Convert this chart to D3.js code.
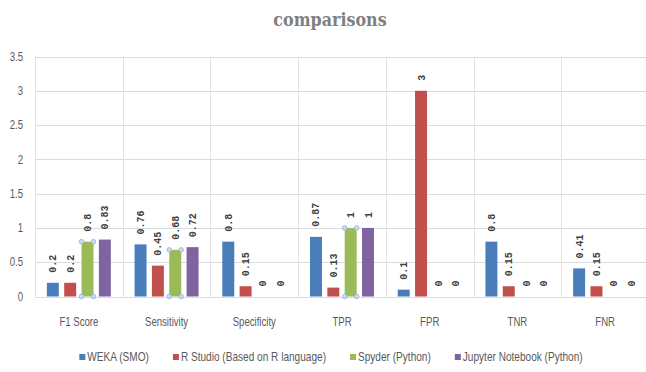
<!DOCTYPE html>
<html lang="en">
	<head>
		<meta charset="utf-8">
		<title>D3: comparisons</title>
		<script type="text/javascript" src="https://cdn.jsdelivr.net/npm/d3@7"></script>
		<style type="text/css">
			body { margin: 0; background: #fff; }
			svg { display: block; }
		</style>
	</head>
	<body>
		<script type="text/javascript">

			//Chart data
			var categories = ["F1 Score", "Sensitivity", "Specificity", "TPR", "FPR", "TNR", "FNR"];
			var seriesNames = ["WEKA (SMO)", "R Studio (Based on R language)", "Spyder (Python)", "Jupyter Notebook (Python)"];
			var weka = [0.2, 0.76, 0.8, 0.87, 0.1, 0.8, 0.41];
			var rstudio = [0.2, 0.45, 0.15, 0.13, 3, 0.15, 0.15];
			var spyder = [0.8, 0.68, 0, 1, 0, 0, 0];
			var jupyter = [0.83, 0.72, 0, 1, 0, 0, 0];
			var yTicks = [0, 0.5, 1, 1.5, 2, 2.5, 3, 3.5];
			var colors = ["#4a7ebb", "#c0504d", "#9bbb59", "#8064a2"];

			var series = [weka, rstudio, spyder, jupyter];

			//Width and height
			var w = 646;
			var h = 372;
			var plotLeft = 35, plotRight = 649, plotTop = 56.5, plotBottom = 296.5;
			var labelFont = "'Liberation Sans', Arial, sans-serif";
			var squeeze = 0.8; //narrow the sans labels a bit, the original font is condensed

			var svg = d3.select("body")
						.append("svg")
						.attr("width", w)
						.attr("height", h);

			var x0 = d3.scaleBand()
					   .domain(categories)
					   .range([plotLeft, plotRight]);

			var x1 = d3.scaleBand()
					   .domain(d3.range(series.length))
					   .range([0, 64])
					   .paddingInner(0.31);

			var y = d3.scaleLinear()
					  .domain([0, 3.5])
					  .range([plotBottom, plotTop]);

			//place a condensed text at (px, py)
			function narrowText(sel, px, py, sx) {
				return sel.attr("transform", "translate(" + px + "," + py + ") scale(" + (sx || squeeze) + ",1)");
			}

			//Title
			svg.append("text")
			   .attr("text-anchor", "middle")
			   .attr("font-family", "'DejaVu Serif', 'Liberation Serif', serif")
			   .attr("font-weight", "bold")
			   .attr("font-size", "19px")
			   .attr("fill", "#808080")
			   .attr("transform", "translate(330,26) scale(0.84,1)")
			   .text("comparisons");

			//Horizontal grid
			svg.append("g")
			   .selectAll("line")
			   .data(yTicks)
			   .enter()
			   .append("line")
			   .attr("x1", plotLeft)
			   .attr("x2", plotRight)
			   .attr("y1", function(d) { return Math.round(y(d)) + 0.5; })
			   .attr("y2", function(d) { return Math.round(y(d)) + 0.5; })
			   .attr("stroke", "#dcdcdc")
			   .attr("stroke-width", 1);

			//Vertical category separators
			svg.append("g")
			   .selectAll("line")
			   .data(categories)
			   .enter()
			   .append("line")
			   .attr("x1", function(d) { return Math.round(x0(d)) + 0.5; })
			   .attr("x2", function(d) { return Math.round(x0(d)) + 0.5; })
			   .attr("y1", y(3.5))
			   .attr("y2", y(0))
			   .attr("stroke", "#e2e2e2")
			   .attr("stroke-width", 1);

			//Y tick labels
			svg.append("g")
			   .selectAll("text")
			   .data(yTicks)
			   .enter()
			   .append("text")
			   .each(function(d) { narrowText(d3.select(this), 23, y(d)); })
			   .attr("dy", "0.35em")
			   .attr("text-anchor", "end")
			   .attr("font-family", labelFont)
			   .attr("font-size", "12px")
			   .attr("fill", "#595959")
			   .text(function(d) { return d; });

			//Bars
			var groups = svg.append("g")
							.selectAll("g")
							.data(categories)
							.enter()
							.append("g")
							.attr("transform", function(d) {
								return "translate(" + (x0(d) + (x0.bandwidth() - 64) / 2) + ",0)";
							});

			var cells = groups.selectAll("g")
							  .data(function(d, i) {
								  return series.map(function(s, k) { return { k: k, v: s[i] }; });
							  })
							  .enter()
							  .append("g");

			cells.append("rect")
				 .attr("x", function(d) { return x1(d.k); })
				 .attr("y", function(d) { return y(d.v); })
				 .attr("width", x1.bandwidth())
				 .attr("height", function(d) { return y(0) - y(d.v); })
				 .attr("fill", function(d) { return colors[d.k]; });

			//Selection handles on the green bars
			cells.filter(function(d) { return d.k == 2 && d.v > 0; })
				 .each(function(d) {
					 var g = d3.select(this);
					 var xs = [x1(d.k), x1(d.k) + x1.bandwidth()];
					 var ys = [y(d.v), y(0)];
					 xs.forEach(function(px) {
						 ys.forEach(function(py) {
							 g.append("circle")
							  .attr("cx", px)
							  .attr("cy", py)
							  .attr("r", 2.3)
							  .attr("fill", "#c9dcef")
							  .attr("stroke", "#8fb3d9")
							  .attr("stroke-width", 0.8);
						 });
					 });
				 });

			//Value labels
			cells.append("text")
				 .attr("transform", function(d) {
					 return "translate(" + (x1(d.k) + x1.bandwidth() / 2) + "," + (y(d.v) - 10) + ") rotate(-90)";
				 })
				 .attr("dy", "0.35em")
				 .attr("font-family", "'Liberation Mono', 'DejaVu Sans Mono', monospace")
				 .attr("font-weight", "bold")
				 .attr("font-size", "10px")
				 .attr("fill", "#404040")
				 .text(function(d) { return d.v; });

			//Category labels
			svg.append("g")
			   .selectAll("text")
			   .data(categories)
			   .enter()
			   .append("text")
			   .each(function(d) { narrowText(d3.select(this), x0(d) + x0.bandwidth() / 2, 326); })
			   .attr("text-anchor", "middle")
			   .attr("font-family", labelFont)
			   .attr("font-size", "12px")
			   .attr("fill", "#595959")
			   .text(function(d) { return d; });

			//Legend, centred under the chart
			var legend = svg.append("g");
			var legendSqueeze = 0.84;
			var lx = 0;
			seriesNames.forEach(function(name, k) {
				legend.append("rect")
					  .attr("x", lx)
					  .attr("y", 354)
					  .attr("width", 6)
					  .attr("height", 6)
					  .attr("fill", colors[k]);
				var t = legend.append("text")
							  .attr("font-family", labelFont)
							  .attr("font-size", "12px")
							  .attr("fill", "#595959")
							  .text(name);
				narrowText(t, lx + 8, 361, legendSqueeze);
				lx += 8 + t.node().getComputedTextLength() * legendSqueeze;
				if (k < seriesNames.length - 1) lx += 24;
			});
			legend.attr("transform", "translate(" + (331 - lx / 2) + ",0)");

		</script>
	</body>
</html>
